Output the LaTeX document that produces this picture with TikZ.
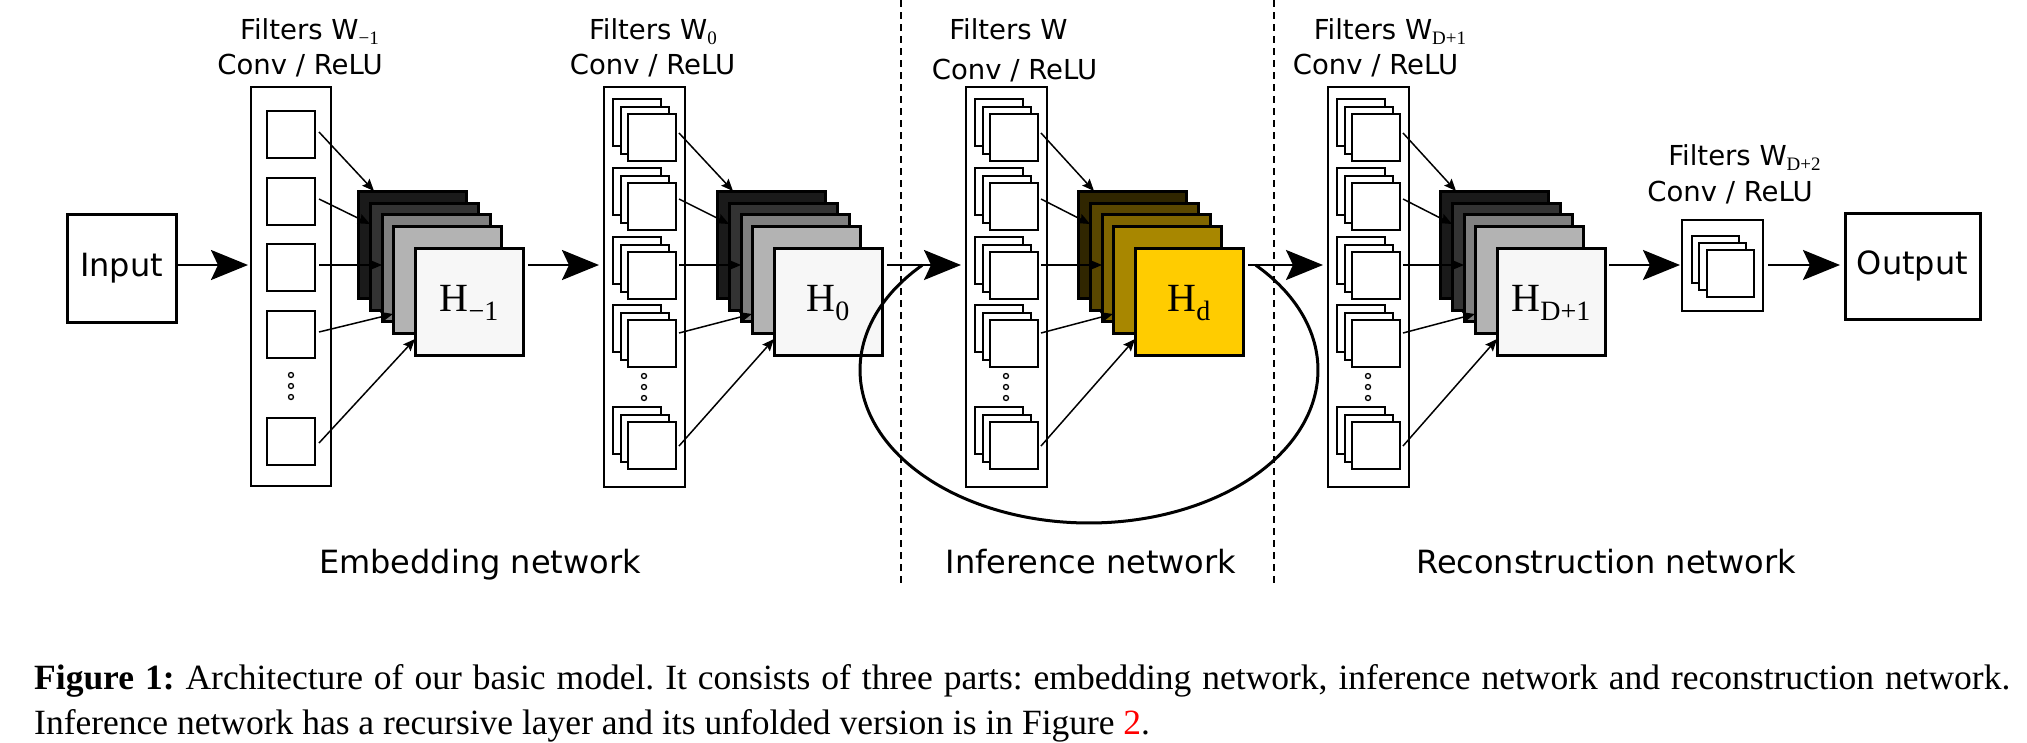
\documentclass[tikz,border=0pt]{standalone}
\usepackage{fontspec}
\setmainfont{DejaVu Sans}
\newfontfamily\capfont{Liberation Serif}
\usetikzlibrary{arrows.meta,calc}
\definecolor{ga}{HTML}{1A1A1A}
\definecolor{gb}{HTML}{333333}
\definecolor{gc}{HTML}{808080}
\definecolor{gd}{HTML}{B3B3B3}
\definecolor{ge}{HTML}{F7F7F7}
\definecolor{ya}{HTML}{302600}
\definecolor{yb}{HTML}{5A4700}
\definecolor{yc}{HTML}{806600}
\definecolor{yd}{HTML}{A88700}
\definecolor{ye}{HTML}{FFCC00}
% serif subscript for labels
\newcommand\wsub[1]{\raisebox{-5pt}{\capfont\fontsize{19}{20}\selectfont #1}}
\newcommand\hlab[1]{{\capfont H\raisebox{-9pt}{\fontsize{28}{30}\selectfont #1}}}
\tikzset{
 colbox/.style={draw, line width=2pt, inner sep=0pt, outer sep=0pt, anchor=north west, fill=white},
 fsq/.style={draw, line width=2pt, inner sep=0pt, outer sep=0pt, anchor=north west, fill=white, minimum width=48pt, minimum height=47pt},
 layer/.style={draw, line width=3pt, inner sep=0pt, outer sep=0pt, anchor=north west, minimum width=108pt, minimum height=107pt},
 iobox/.style={draw, line width=3pt, inner sep=0pt, outer sep=0pt, fill=white, font=\fontsize{32}{38}\selectfont},
 flabel/.style={anchor=base, inner sep=0pt, font=\fontsize{27.5}{33}\selectfont},
 seclabel/.style={anchor=base, inner sep=0pt, font=\fontsize{32}{38}\selectfont},
 hlabel/.style={font=\fontsize{40}{48}\selectfont, text height=27pt, text depth=8pt},
 bigarrow/.style={line width=2.5pt, -{Stealth[length=37pt,width=30pt,inset=7pt]}, shorten <=5pt, shorten >=5pt},
 thinarrow/.style={line width=1.5pt, -{Stealth[length=12pt,width=10pt,inset=2pt]}},
 sepline/.style={line width=2pt, dash pattern=on 7pt off 5pt},
 loopline/.style={line width=3pt},
 dotc/.style={draw, circle, line width=1.3pt, inner sep=0pt, minimum size=5pt, fill=white},
 captext/.style={anchor=base west, inner sep=0pt, font=\capfont\fontsize{35.5}{45}\selectfont\frenchspacing},
}
% stack of feature maps: prefix, x, y, five colours, label
\newcommand\mkstack[9]{%
 \node[layer, fill=#4] (#1a) at (#2,#3) {};
 \node[layer, fill=#5] (#1b) at ({#2+12},{#3+12}) {};
 \node[layer, fill=#6] (#1c) at ({#2+24},{#3+23}) {};
 \node[layer, fill=#7] (#1d) at ({#2+35},{#3+35}) {};
 \node[layer, fill=#8, hlabel] (#1e) at ({#2+57},{#3+57}) {#9};
}
% column of single filters
\newcommand\singlecol[2]{%
 \node[colbox, minimum width=80pt, minimum height=399pt] (#1) at (#2,87) {};
 \foreach \t [count=\i] in {111,178,244,311,418}
   \node[fsq] (#1s\i) at ({#2+16},\t) {};
 \foreach \d [count=\i] in {375,386,397}
   \node[dotc] (#1d\i) at ({#2+40},\d) {};
}
% column of filter groups
\newcommand\groupcol[2]{%
 \node[colbox, minimum width=81pt, minimum height=400pt] (#1) at (#2,87) {};
 \foreach \t [count=\i] in {99,168,237,305,407}{
   \node[fsq] (#1b\i) at ({#2+9},\t) {};
   \node[fsq] (#1m\i) at ({#2+17},{\t+8}) {};
   \node[fsq] (#1s\i) at ({#2+24},{\t+15}) {};
 }
 \foreach \d [count=\i] in {376,387,398}
   \node[dotc] (#1d\i) at ({#2+40},\d) {};
}
% arrows from filters to feature maps
\newcommand\fanin[8]{%
 \draw[thinarrow] ([shift={(#3,#4)}]#1s1.east) -- ($(#2a.north west)+(16,0)$);
 \draw[thinarrow] ([shift={(#3,#5)}]#1s2.east) -- ($(#2b.north west)+(0,21)$);
 \draw[thinarrow] ([shift={(#3,#6)}]#1s3.east) -- ($(#2c.north west)+(0,51)$);
 \draw[thinarrow] ([shift={(#3,#7)}]#1s4.east) -- ($(#2d.north west)+(0,88)$);
 \draw[thinarrow] ([shift={(#3,#8)}]#1s5.east) -- ($(#2e.north west)+(0,91)$);
}
\begin{document}
\begin{tikzpicture}[x=1pt,y=-1pt]
\fill[white] (0,0) rectangle (2027,742);
\path[use as bounding box] (0,0) rectangle (2027,742);
\coordinate (axis) at (0,265);

% separators
\draw[sepline] (901,0) -- (901,586);
\draw[sepline] (1274,0) -- (1274,586);

% input / output
\node[iobox, minimum width=109pt, minimum height=108pt] (in) at (121.5,268) {Input};
\node[iobox, minimum width=135pt, minimum height=106pt] (out) at (1912.5,266) {Output};

% filter columns
\singlecol{ca}{251}
\groupcol{cb}{604}
\groupcol{cc}{966}
\groupcol{cd}{1328}

% last small filter box
\node[colbox, minimum width=81pt, minimum height=91pt] (sb) at (1682,220) {};
\node[fsq, minimum width=47pt] (sbb) at (1692,236) {};
\node[fsq, minimum width=47pt] (sbm) at (1699,243) {};
\node[fsq, minimum width=47pt] (sbs) at (1707,250) {};

% feature maps
\mkstack{sa}{358}{191}{ga}{gb}{gc}{gd}{ge}{\hlab{−1}}
\mkstack{sb}{717}{191}{ga}{gb}{gc}{gd}{ge}{\hlab{0}}
\mkstack{sc}{1078}{191}{ya}{yb}{yc}{yd}{ye}{\hlab{d}}
\mkstack{sd}{1440}{191}{ga}{gb}{gc}{gd}{ge}{\hlab{D+1}}

% fan-in arrows
\fanin{ca}{sa}{4}{-2.5}{-2.5}{-2.5}{-2.5}{1.5}
\fanin{cb}{sb}{3}{-4.5}{-7.5}{-10.5}{-10.5}{0.5}
\fanin{cc}{sc}{3}{-4.5}{-7.5}{-10.5}{-10.5}{0.5}
\fanin{cd}{sd}{3}{-4.5}{-7.5}{-10.5}{-10.5}{0.5}

% main arrows
\draw[bigarrow, shorten <=2pt, shorten >=3pt] (in.east |- axis) -- (ca.west |- axis);
\draw[bigarrow] (sae.east |- axis) -- (cb.west |- axis);
\draw[bigarrow] (sbe.east |- axis) -- (cc.west |- axis);
\draw[bigarrow] (sce.east |- axis) -- (cd.west |- axis);
\draw[bigarrow, shorten <=4pt, shorten >=2pt] (sde.east |- axis) -- (sb.west |- axis);
\draw[bigarrow] (sb.east |- axis) -- (out.west |- axis);

% recursion loop
\draw[loopline] plot[domain=-43.3:223.3, samples=90, smooth] ({1089+229*cos(\x)},{370+153*sin(\x)});

% filter labels
\node[flabel] (la1) at (309.5,39) {Filters W\wsub{−1}};
\node[flabel] (la2) at (300,74) {Conv / ReLU};
\node[flabel] (lb1) at (653,39) {Filters W\wsub{0}};
\node[flabel] (lb2) at (652.5,74) {Conv / ReLU};
\node[flabel] (lc1) at (1008.5,39) {Filters W};
\node[flabel] (lc2) at (1014.5,79) {Conv / ReLU};
\node[flabel] (ld1) at (1390,39) {Filters W\wsub{D+1}};
\node[flabel] (ld2) at (1375.5,74) {Conv / ReLU};
\node[flabel] (le1) at (1744.5,165) {Filters W\wsub{D+2}};
\node[flabel] (le2) at (1730,201) {Conv / ReLU};

% section labels
\node[seclabel] (emb) at (480,573) {Embedding network};
\node[seclabel] (inf) at (1091,573) {Inference network};
\node[seclabel] (rec) at (1606,573) {Reconstruction network};

% caption
\node[captext] (cap1) at (34,689) {\makebox[1976pt][s]{\textbf{Figure 1:} Architecture of our basic model. It consists of three parts: embedding network, inference network and reconstruction network.}};
\node[captext] (cap2) at (34,734) {Inference network has a recursive layer and its unfolded version is in Figure \textcolor{red}{2}.};
\end{tikzpicture}
\end{document}
